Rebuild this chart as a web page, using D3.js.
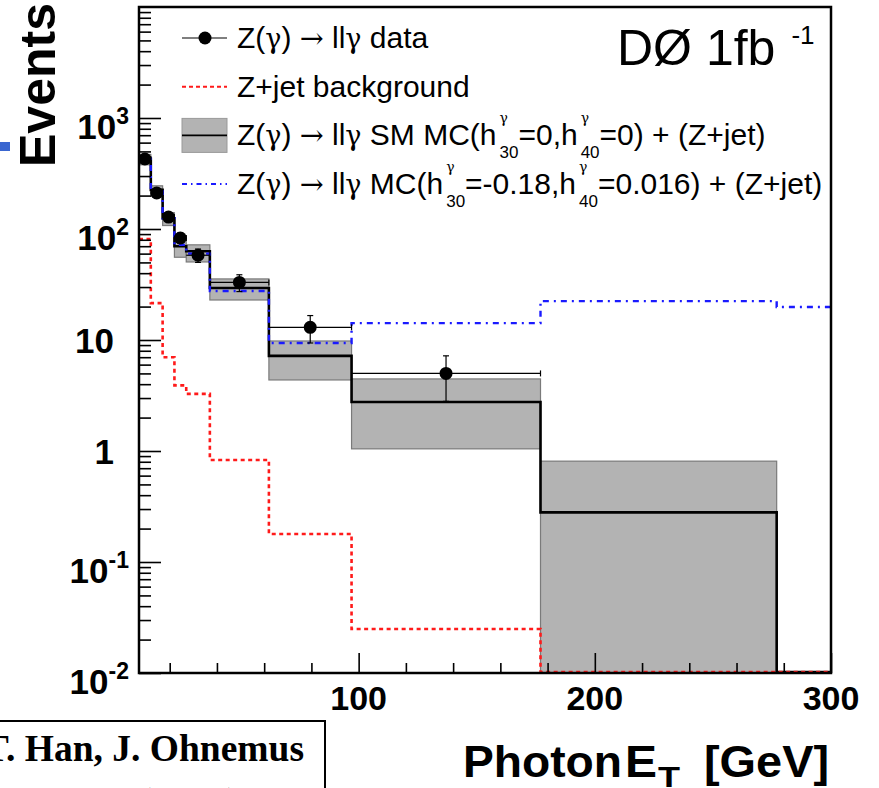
<!DOCTYPE html>
<html>
<head>
<meta charset="utf-8">
<script src="https://cdn.jsdelivr.net/npm/d3@7"></script>
<style>
  body { margin: 0; background: #fff; overflow: hidden; }
  svg { display: block; }
</style>
</head>
<body>
<div id="chart"></div>
<script>
// bin edges, photon ET in GeV
var binEdges = [7, 12, 17, 22, 27, 37, 62, 97, 177, 277, 300];

// data points (events per bin) and their errors
var dataVals  = [427, 211, 128, 83, 58, 33, 13, 5];
var dataErrUp = [21, 15, 11, 9, 8, 5.7, 3.6, 2.2];
var dataErrDn = [21, 15, 11, 9, 8, 5.7, 3.6, 2.2];

// SM MC + Z+jet, with its uncertainty band (0 = below the axis)
var smVals = [430, 225, 125, 70, 63, 29.4, 7.2, 2.76, 0.28, 0];
var smHi   = [470, 245, 140, 82, 72, 35.5, 9.8, 4.46, 0.81, 0];
var smLo   = [395, 205, 112, 58, 52.6, 23.9, 4.55, 1.09, 0, 0];

// Z+jet background
var zjetVals = [81, 21.5, 7.0, 3.9, 3.27, 0.83, 0.179, 0.0249, 0, 0];

// anomalous coupling MC + Z+jet
var atgcVals = [430, 218, 125, 72, 60, 27.6, 9.4, 14.2, 22.4, 19.8];

var yTicks = [0.01, 0.1, 1, 10, 100, 1000];
var yTickLabels = ["10^-2", "10^-1", "1", "10", "10^2", "10^3"];
var xTicks = [100, 200, 300];
var xMinorTicks = [20, 40, 60, 80, 120, 140, 160, 180, 220, 240, 260, 280];

(function () {
  var width = 879, height = 788;
  var pl = 139, pr = 831, pt = 7, pb = 673;

  var svg = d3.select("#chart").append("svg")
    .attr("width", width)
    .attr("height", height);

  var x = d3.scaleLinear().domain([7, 300]).range([pl, pr]);
  var y = d3.scaleLog().domain([0.01, 1e4]).range([pb, pt]);

  function yv(v) { return v > 0 ? y(v) : pb - 1; }

  svg.append("defs").append("clipPath").attr("id", "plotclip")
    .append("rect")
    .attr("x", pl).attr("y", pt)
    .attr("width", pr - pl).attr("height", pb - pt);

  var plot = svg.append("g").attr("clip-path", "url(#plotclip)");

  // step line through bins
  function stepPoints(vals) {
    var pts = [];
    vals.forEach(function (v, i) {
      pts.push([x(binEdges[i]), yv(v)]);
      pts.push([x(binEdges[i + 1]), yv(v)]);
    });
    return pts;
  }
  var line = d3.line();

  // uncertainty band
  plot.selectAll("rect.band")
    .data(d3.range(smVals.length).filter(function (i) { return smHi[i] > 0; }))
    .enter().append("rect")
    .attr("class", "band")
    .attr("x", function (i) { return x(binEdges[i]); })
    .attr("width", function (i) { return x(binEdges[i + 1]) - x(binEdges[i]); })
    .attr("y", function (i) { return yv(smHi[i]); })
    .attr("height", function (i) { return yv(smLo[i]) - yv(smHi[i]) + 2; })
    .style("fill", "#b3b3b3")
    .style("stroke", "#7a7a7a")
    .style("stroke-width", 1.2);

  // SM histogram
  plot.append("path")
    .attr("d", line(stepPoints(smVals)))
    .style("fill", "none")
    .style("stroke", "#000")
    .style("stroke-width", 2.6);

  // Z+jet background
  plot.append("path")
    .attr("d", line(stepPoints(zjetVals)))
    .style("fill", "none")
    .style("stroke", "#ff1a1a")
    .style("stroke-width", 2.6)
    .style("stroke-dasharray", "4,3.5");

  // anomalous coupling MC
  plot.append("path")
    .attr("d", line(stepPoints(atgcVals)))
    .style("fill", "none")
    .style("stroke", "#1a1aff")
    .style("stroke-width", 2.4)
    .style("stroke-dasharray", "6,5,2,5");

  // data with error bars
  function mid(i) { return x((binEdges[i] + binEdges[i + 1]) / 2); }

  var pts = plot.selectAll("g.pt")
    .data(dataVals)
    .enter().append("g")
    .attr("class", "pt");

  pts.append("line")
    .attr("x1", function (d, i) { return x(binEdges[i]); })
    .attr("x2", function (d, i) { return x(binEdges[i + 1]); })
    .attr("y1", function (d) { return y(d); })
    .attr("y2", function (d) { return y(d); })
    .style("stroke", "#000").style("stroke-width", 1.2);

  pts.append("line")
    .attr("x1", function (d, i) { return x(binEdges[i + 1]); })
    .attr("x2", function (d, i) { return x(binEdges[i + 1]); })
    .attr("y1", function (d) { return y(d) - 3; })
    .attr("y2", function (d) { return y(d) + 3; })
    .style("stroke", "#000").style("stroke-width", 1.2);

  pts.append("line")
    .attr("x1", function (d, i) { return mid(i); })
    .attr("x2", function (d, i) { return mid(i); })
    .attr("y1", function (d, i) { return y(d + dataErrUp[i]); })
    .attr("y2", function (d, i) { return y(d - dataErrDn[i]); })
    .style("stroke", "#000").style("stroke-width", 1.2);

  [dataErrUp, dataErrDn].forEach(function (err, k) {
    pts.append("line")
      .attr("x1", function (d, i) { return mid(i) - 3; })
      .attr("x2", function (d, i) { return mid(i) + 3; })
      .attr("y1", function (d, i) { return y(k ? d - err[i] : d + err[i]); })
      .attr("y2", function (d, i) { return y(k ? d - err[i] : d + err[i]); })
      .style("stroke", "#000").style("stroke-width", 1.2);
  });

  pts.append("circle")
    .attr("cx", function (d, i) { return mid(i); })
    .attr("cy", function (d) { return y(d); })
    .attr("r", 6.5)
    .style("fill", "#000");

  // axis ticks, drawn inward
  var minorY = [];
  for (var e = -2; e < 4; e++) {
    for (var m = 2; m <= 9; m++) minorY.push(m * Math.pow(10, e));
  }

  function tickStyle(g) {
    g.select(".domain").remove();
    g.selectAll("line").style("stroke", "#000").style("stroke-width", 1.6);
  }

  svg.append("g")
    .attr("transform", "translate(" + pl + ",0)")
    .call(d3.axisLeft(y).tickValues(minorY).tickSize(-12).tickFormat(""))
    .call(tickStyle);

  svg.append("g")
    .attr("transform", "translate(" + pl + ",0)")
    .call(d3.axisLeft(y).tickValues(yTicks).tickSize(-22).tickFormat(""))
    .call(tickStyle);

  svg.append("g")
    .attr("transform", "translate(0," + pb + ")")
    .call(d3.axisBottom(x).tickValues(xMinorTicks).tickSize(-10).tickFormat(""))
    .call(tickStyle);

  svg.append("g")
    .attr("transform", "translate(0," + pb + ")")
    .call(d3.axisBottom(x).tickValues(xTicks).tickSize(-20).tickFormat(""))
    .call(tickStyle);

  // frame
  svg.append("rect")
    .attr("x", pl).attr("y", pt)
    .attr("width", pr - pl).attr("height", pb - pt)
    .style("fill", "none")
    .style("stroke", "#000")
    .style("stroke-width", 2.5);

  // tick labels
  var font = "'Liberation Sans', Arial, Helvetica, sans-serif";

  yTicks.forEach(function (v, i) {
    var parts = yTickLabels[i].split("^");
    var ty = y(v);
    var t = svg.append("text")
      .style("font-family", font)
      .style("font-weight", "bold")
      .style("font-size", "35px");
    if (parts.length === 1) {
      t.attr("x", 114).attr("y", ty + 13)
        .attr("text-anchor", "end")
        .text(parts[0]);
    } else {
      t.attr("y", ty + 21).text(parts[0]);
      var ex = svg.append("text")
        .style("font-family", font)
        .style("font-weight", "bold")
        .style("font-size", "23px")
        .attr("y", ty + 6)
        .text(parts[1]);
      var w1 = t.node().getComputedTextLength();
      var w2 = ex.node().getComputedTextLength();
      t.attr("x", 129 - w1 - w2);
      ex.attr("x", 129 - w2);
    }
  });

  svg.selectAll("text.xlab")
    .data(xTicks)
    .enter().append("text")
    .attr("class", "xlab")
    .attr("x", function (d) { return x(d); })
    .attr("y", 710)
    .attr("text-anchor", "middle")
    .style("font-family", font)
    .style("font-weight", "bold")
    .style("font-size", "34px")
    .text(function (d) { return d; });

  // axis titles
  var xt = svg.append("g")
    .style("font-family", font)
    .style("font-weight", "bold");
  xt.append("text").attr("x", 463).attr("y", 777).style("font-size", "45px")
    .attr("textLength", 159).attr("lengthAdjust", "spacingAndGlyphs").text("Photon");
  xt.append("text").attr("x", 625).attr("y", 777).style("font-size", "45px")
    .attr("textLength", 32).attr("lengthAdjust", "spacingAndGlyphs").text("E");
  xt.append("text").attr("x", 658).attr("y", 787).style("font-size", "30px")
    .attr("textLength", 22).attr("lengthAdjust", "spacingAndGlyphs").text("T");
  xt.append("text").attr("x", 704).attr("y", 777).style("font-size", "45px")
    .attr("textLength", 125).attr("lengthAdjust", "spacingAndGlyphs").text("[GeV]");

  svg.append("text")
    .attr("transform", "translate(55,167) rotate(-90)")
    .style("font-family", font)
    .style("font-weight", "bold")
    .style("font-size", "50px")
    .text("Events");

  svg.append("rect")
    .attr("x", 0).attr("y", 142)
    .attr("width", 10).attr("height", 9)
    .style("fill", "#3a66d0");

  // DØ label
  var lum = svg.append("text")
    .attr("x", 617).attr("y", 65)
    .style("font-family", font)
    .style("font-size", "50px")
    .text("DØ 1fb");
  var lw = lum.node().getComputedTextLength();
  svg.append("text")
    .attr("x", 617 + lw + 16).attr("y", 44)
    .style("font-family", font)
    .style("font-size", "26px")
    .text("-1");

  // legend
  var legendItems = [
    { kind: "data", text: ["Z(γ) → llγ data"] },
    { kind: "zjet", text: ["Z+jet background"] },
    { kind: "sm", text: ["Z(γ) → llγ SM MC(h", { sup: "γ", sub: "30" }, "=0,h", { sup: "γ", sub: "40" }, "=0) + (Z+jet)"] },
    { kind: "atgc", text: ["Z(γ) → llγ MC(h", { sup: "γ", sub: "30" }, "=-0.18,h", { sup: "γ", sub: "40" }, "=0.016) + (Z+jet)"] }
  ];
  var symFont = "'DejaVu Serif', 'Liberation Serif', serif";

  // write a string, putting greek letters and arrows in a symbol-like face
  function richRun(textSel, str, size) {
    str.split(/([γ→])/).forEach(function (s) {
      if (!s) return;
      var ts = textSel.append("tspan").text(s);
      if (s === "γ" || s === "→") {
        ts.style("font-family", symFont).style("font-size", (s === "→" ? size * 0.95 : size * 0.9) + "px");
      }
    });
  }

  var leg = svg.append("g");
  legendItems.forEach(function (item, i) {
    var cy = 38 + i * 48.7;
    var g = leg.append("g");
    if (item.kind === "data") {
      g.append("line").attr("x1", 182).attr("x2", 227).attr("y1", cy).attr("y2", cy)
        .style("stroke", "#000").style("stroke-width", 1.2);
      g.append("circle").attr("cx", 205).attr("cy", cy).attr("r", 6.5).style("fill", "#000");
    } else if (item.kind === "zjet") {
      g.append("line").attr("x1", 182).attr("x2", 227).attr("y1", cy).attr("y2", cy)
        .style("stroke", "#ff1a1a").style("stroke-width", 2).style("stroke-dasharray", "4,3");
    } else if (item.kind === "sm") {
      g.append("rect").attr("x", 182).attr("y", cy - 17).attr("width", 45).attr("height", 34)
        .style("fill", "#b3b3b3").style("stroke", "#999").style("stroke-width", 1);
      g.append("line").attr("x1", 182).attr("x2", 227).attr("y1", cy).attr("y2", cy)
        .style("stroke", "#000").style("stroke-width", 1.6);
    } else {
      g.append("line").attr("x1", 182).attr("x2", 227).attr("y1", cy).attr("y2", cy)
        .style("stroke", "#1a1aff").style("stroke-width", 2).style("stroke-dasharray", "5,4,1.5,4");
    }
    var tx = 237, base = cy + 10;
    item.text.forEach(function (p) {
      if (typeof p === "string") {
        var t = g.append("text").attr("x", tx).attr("y", base)
          .style("font-family", font).style("font-size", "30px");
        richRun(t, p, 30);
        tx += t.node().getComputedTextLength();
      } else {
        var s1 = g.append("text").attr("x", tx + 3).attr("y", base - 22)
          .style("font-family", symFont).style("font-size", "14px").text(p.sup);
        var s2 = g.append("text").attr("x", tx + 3).attr("y", base + 13)
          .style("font-family", font).style("font-size", "17px").text(p.sub);
        tx += 3 + Math.max(s1.node().getComputedTextLength(), s2.node().getComputedTextLength());
      }
    });
  });

  // reference box, lower left
  svg.append("rect")
    .attr("x", -10).attr("y", 721)
    .attr("width", 335).attr("height", 100)
    .style("fill", "none")
    .style("stroke", "#000")
    .style("stroke-width", 2);

  var serif = "'Liberation Serif', 'Times New Roman', serif";
  svg.append("text")
    .attr("x", 304).attr("y", 761)
    .attr("text-anchor", "end")
    .style("font-family", serif)
    .style("font-weight", "bold")
    .style("font-size", "37.5px")
    .text("T. Han, J. Ohnemus");
  svg.append("text")
    .attr("x", 240).attr("y", 814)
    .attr("text-anchor", "end")
    .style("font-family", serif)
    .style("font-weight", "bold")
    .style("font-size", "38px")
    .text("Phys. Rev. D57 (1998)");
})();
</script>
</body>
</html>
